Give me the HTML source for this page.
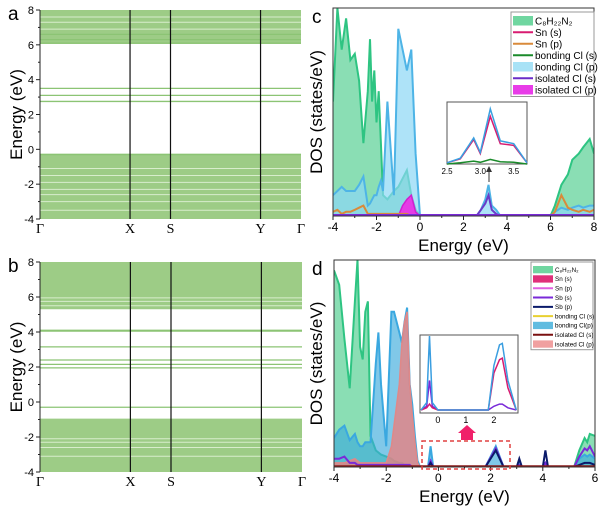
<!DOCTYPE html>
<html><head><meta charset="utf-8"><style>
body{margin:0;background:#fff}
svg{display:block;font-family:"Liberation Sans",sans-serif}
</style></head><body>
<svg id="fig" width="600" height="508" viewBox="0 0 600 508"></svg>
<script>
// ---- band data ----
const bandA_dense=[[6.05,8],[-4,-0.25]];
const bandA_lines=[3.5,3.1,2.75,6.1,6.3,6.6,-0.3];
const bandA_gaps=[6.9,7.3,7.6,-1.1,-1.5,-1.9,-2.3,-2.6,-3.0,-3.5];
const bandB_dense=[[5.3,8],[-4,-0.95]];
const bandB_lines=[4.1,4.05,3.15,2.4,2.15,1.95,-0.3];
const bandB_gaps=[5.5,5.75,5.95,-2.1,-2.3,-2.6,-3.1];
const kLabels=["Γ","X","S","Y","Γ"];
const kPos=[0,0.345,0.5,0.845,1];
// ---- DOS panel c ----
const cE=[-4,-3.8,-3.6,-3.4,-3.2,-3.0,-2.8,-2.6,-2.4,-2.3,-2.2,-2.1,-2.0,-1.9,-1.8,-1.7,-1.5,-1.2,-1.0,-0.8,-0.6,-0.4,-0.2,0,2.6,2.8,3.0,3.15,3.3,3.5,3.7,6.0,6.2,6.5,6.8,7.0,7.3,7.5,7.8,8];
const cOrg=[55,100,80,95,75,78,65,35,60,85,55,70,45,60,35,10,8,12,14,18,22,10,3,0,0,0,0,0,0,0,0,0,5,15,20,27,30,33,37,30];
const cBlue=[10,12,14,12,12,12,15,19,5,6,8,10,10,14,17,12,55,10,90,80,70,80,30,0,0,3,8,15,5,3,0,0,2,4,3,4,5,4,5,5];
const cMag=[0,0,0,0,0,0,0,0,0,0,0,0,0,0,0,0,0,0,0,5,8,10,2,0,0,0,0,0,0,0,0,0,0,0,0,0,0,0,0,0];
const cSnp=[2,3,1,2,2,3,4,5,1,1,1,1,1,1,1,1,1,1,1,1,1,0,0,0,0,0,0,0,0,0,0,0,2,10,4,3,2,3,2,3];
const cIso=[0,0,0,0,0,0,0,0,0,0,0,0,0,0,0,0,0,0,0,0,0,0,0,0,0,3,6,10,3,1,0,0,0,0,0,0,0,0,0,0];
const cInE=[2.5,2.7,2.9,3.0,3.15,3.3,3.5,3.7];
const cInBlue=[2,10,45,20,95,40,35,2];
const cInRed=[2,9,42,18,82,35,32,2];
const cInGreen=[0,2,5,3,8,4,3,0];
// ---- DOS panel d ----
const dE=[-4,-3.8,-3.6,-3.4,-3.2,-3.1,-3.0,-2.9,-2.8,-2.7,-2.6,-2.4,-2.3,-2.2,-2.0,-1.8,-1.7,-1.5,-1.4,-1.3,-1.2,-1.1,-1.0,-0.9,-0.8,-0.7,-0.4,-0.3,-0.2,1.8,2.2,2.5,3.0,3.1,3.2,4.0,4.1,4.2,5.2,5.4,5.6,5.7,5.8,6];
const dOrg=[95,88,62,38,80,100,58,52,75,80,15,8,7,6,5,4,3,2,2,1,1,0,0,0,0,0,0,0,0,0,0,0,0,0,0,0,0,0,0,8,14,12,16,15];
const dBlue=[14,18,20,13,16,12,10,10,12,12,12,50,65,40,10,75,75,65,60,70,77,40,30,15,3,0,0,10,0,0,10,0,0,3,0,0,2,0,0,4,6,5,6,4];
const dPink=[2,2,2,3,4,3,2,2,2,2,2,2,2,2,2,10,20,40,60,70,75,40,25,12,2,0,0,0,0,0,0,0,0,0,0,0,0,0,0,0,0,0,0,0];
const dSbp=[0,0,0,0,0,0,0,0,0,0,0,0,0,0,0,0,0,0,0,0,0,0,0,0,0,0,0,2,0,0,8,0,0,4,0,0,8,0,0,1,2,2,2,1];
const dSbs=[4,4,5,2,2,1,1,1,1,1,1,1,1,1,1,1,1,1,1,1,1,1,0,0,0,0,0,3,0,0,9,0,0,1,0,0,2,0,0,5,9,8,10,5];
const dInE=[-0.6,-0.4,-0.3,-0.2,0,1.8,2.0,2.2,2.3,2.5,2.8];
const dInBlue=[0,10,100,10,0,0,60,88,90,40,0];
const dInPurp=[0,5,40,5,0,0,5,8,8,3,0];
const dInRed=[0,3,8,3,0,0,50,68,70,30,0];

const S="http://www.w3.org/2000/svg";
const svg=document.getElementById('fig');
function el(t,a,p){const e=document.createElementNS(S,t);for(const k in a)e.setAttribute(k,a[k]);(p||svg).appendChild(e);return e;}
function txt(x,y,s,sz,anc,p,extra){const e=el('text',Object.assign({x:x,y:y,'font-size':sz,'text-anchor':anc||'middle',fill:'#000'},extra||{}),p);e.textContent=s;return e;}

function band(L,R,T,B,dense,lines,gaps,letter,name){
  const g=el('g',{});
  
  
  const y=e=>B-(e+4)/12*(B-T);
  dense.forEach(d=>{const r=el('rect',{x:L,y:y(d[1]),width:R-L,height:y(d[0])-y(d[1]),fill:'#9dcc86'},g);
    });
  gaps.forEach(e=>{el('line',{x1:L,x2:R,y1:y(e),y2:y(e),stroke:'#d8edcc','stroke-width':1},g);});
  lines.forEach(e=>{const l=el('line',{x1:L,x2:R,y1:y(e),y2:y(e),stroke:'#8cc474','stroke-width':1.3},g);
    });
  kPos.forEach((k,i)=>{const x=L+k*(R-L);
    if(i>0&&i<4)el('line',{x1:x,x2:x,y1:T,y2:B,stroke:'#111','stroke-width':1.2},g);
    const t=txt(x,B+14,kLabels[i],14,'middle',g,{'font-family':'Liberation Serif,serif'});
    });
  el('line',{x1:L,x2:L,y1:T,y2:B,stroke:'#222'},g);
  for(let v=-4;v<=8;v+=2){el('line',{x1:L-4,x2:L,y1:y(v),y2:y(v),stroke:'#222'},g);
    const t=txt(L-6,y(v)+4,String(v),11,'end',g);}
  for(let v=-3;v<=7;v+=2)el('line',{x1:L-2,x2:L,y1:y(v),y2:y(v),stroke:'#222'},g);
  const yt=txt(0,0,'Energy (eV)',17,'middle',g,{transform:`translate(22,${(T+B)/2}) rotate(-90)`});
  
  const lt=txt(8,T+10,letter,19,'start',g);
}
band(40,301,10,219,bandA_dense,bandA_lines,bandA_gaps,'a','band-structure-a');
band(40,302,262,472,bandB_dense,bandB_lines,bandB_gaps,'b','band-structure-b');

function series(g,E,V,xs,ys,fill,stroke,sw,name){
  let d='';E.forEach((e,i)=>{d+=(i?'L':'M')+xs(e).toFixed(1)+','+ys(V[i]).toFixed(1);});
  if(fill){const a=el('path',{d:d+`L${xs(E[E.length-1])},${ys(0)}L${xs(E[0])},${ys(0)}Z`,fill:fill,stroke:'none'},g);
    }
  const p=el('path',{d:d,fill:'none',stroke:stroke,'stroke-width':sw||1.5},g);
  
}

function dosAxes(g,L,R,T,B,emin,emax,letter){
  el('rect',{x:L,y:T,width:R-L,height:B-T,fill:'none',stroke:'#333'},g);
  const xs=e=>L+(e-emin)/(emax-emin)*(R-L);
  for(let v=emin;v<=emax;v+=2){el('line',{x1:xs(v),x2:xs(v),y1:B,y2:B+4,stroke:'#222'},g);
    const t=txt(xs(v),B+15,String(v),12,'middle',g);}
  for(let v=emin+1;v<emax;v+=2)el('line',{x1:xs(v),x2:xs(v),y1:B,y2:B+2,stroke:'#222'},g);
  const xt=txt((L+R)/2,B+35,'Energy (eV)',17,'middle',g);
  const yt=txt(0,0,'DOS (states/eV)',17,'middle',g,{transform:`translate(322,${(T+B)/2}) rotate(-90)`});
  
  const lt=txt(312,T+15,letter,19,'start',g);
}
function legend(g,x,y,w,rowH,items,fs){
  const b=el('rect',{x:x,y:y,width:w,height:rowH*items.length+4,fill:'#fff',stroke:'#999'},g);
  
  items.forEach((it,i)=>{const yy=y+3+i*rowH+rowH/2;
    if(it[2]==='box'){el('rect',{x:x+2,y:yy-rowH/2+1,width:20,height:rowH-2,fill:it[1]},g);}
    else el('line',{x1:x+2,x2:x+22,y1:yy,y2:yy,stroke:it[1],'stroke-width':2},g);
    const t=txt(x+24,yy+fs*0.35,it[0],fs,'start',g);});
}

// Panel c
(function(){
  const g=el('g',{});
  const L=333,R=594,T=8,B=216;
  const xs=e=>L+(e+4)/12*(R-L), ys=v=>B-Math.min(v,104)*(B-T)/100;
  const clip=el('clipPath',{id:'cc'},g);el('rect',{x:L,y:T,width:R-L,height:B-T},clip);
  const pg=el('g',{'clip-path':'url(#cc)'},g);
  series(pg,cE,cOrg,xs,ys,'rgba(60,200,130,0.6)','#2ec482',2,'c8h22n2');
  series(pg,cE,cBlue,xs,ys,'rgba(140,215,245,0.7)','#4eb4e6',2,'bonding-cl-p');
  series(pg,cE,cMag,xs,ys,'#e63ce6','#d020d0',1.5,'isolated-cl-p');
  series(pg,cE,cSnp,xs,ys,null,'#d98a3a',2,'sn-p');
  series(pg,cE,cIso,xs,ys,null,'#6a3cc8',2,'isolated-cl-s');
  el('line',{x1:L,x2:R,y1:B-1,y2:B-1,stroke:'#7a2ad8','stroke-width':2},pg);
  dosAxes(g,L,R,T,B,-4,8,'c');
  legend(g,511,12,83,11.5,[['C₈H₂₂N₂','#6fd6a0','box'],['Sn (s)','#d81b70'],['Sn (p)','#d98a3a'],['bonding Cl (s)','#1a8a2a'],['bonding Cl (p)','#a8e2f6','box'],['isolated Cl (s)','#6a2cc8'],['isolated Cl (p)','#e83ce8','box']],10);
  const iL=447,iR=527,iT=102,iB=164;
  el('rect',{x:iL,y:iT,width:iR-iL,height:iB-iT,fill:'#fff',stroke:'#555'},g);
  const ix=e=>iL+(e-2.5)/1.2*(iR-iL), iy=v=>iB-v*(iB-iT-4)/100;
  series(g,cInE,cInGreen,ix,iy,null,'#1a8a2a',1.5,'inset-bonding-cl-s');
  series(g,cInE,cInRed,ix,iy,null,'#d81b70',1.5,'inset-sn-s');
  series(g,cInE,cInBlue,ix,iy,null,'#3aa0e0',1.5,'inset-bonding-cl-p');
  [2.5,3.0,3.5].forEach(v=>{const t=txt(ix(v),iB+10,v.toFixed(1),8,'middle',g);});
  el('line',{x1:489,x2:489,y1:182,y2:170,stroke:'#333'},g);
  el('path',{d:'M486,172L489,166L492,172Z',fill:'#333'},g);
})();

// Panel d
(function(){
  const g=el('g',{});
  const L=334,R=595,T=260,B=467;
  const xs=e=>L+(e+4)/10*(R-L), ys=v=>B-Math.min(v,104)*(B-T)/100;
  const clip=el('clipPath',{id:'cd'},g);el('rect',{x:L,y:T,width:R-L,height:B-T},clip);
  const pg=el('g',{'clip-path':'url(#cd)'},g);
  series(pg,dE,dOrg,xs,ys,'rgba(60,200,130,0.6)','#2ec482',2,'c8h22n2');
  series(pg,dE,dBlue,xs,ys,'rgba(60,170,220,0.65)','#3aa8e0',2,'bonding-cl-p');
  series(pg,dE,dPink,xs,ys,'rgba(230,130,130,0.8)','#e08888',1.5,'isolated-cl-p');
  series(pg,dE,dSbs,xs,ys,null,'#7a2ad8',2,'sb-s');
  series(pg,dE,dSbp,xs,ys,null,'#0a1a6a',2,'sb-p');
  el('line',{x1:L,x2:R,y1:B-1,y2:B-1,stroke:'#8a1a1a','stroke-width':1.5},pg);
  dosAxes(g,L,R,T,B,-4,6,'d');
  legend(g,531,262,62,9.3,[['C₈H₂₂N₂','#6fd6a0','box'],['Sn (s)','#e0307a','box'],['Sn (p)','#e060e0'],['Sb (s)','#7a2ad8'],['Sb (p)','#0a1a6a'],['bonding Cl (s)','#e8d030'],['bonding Cl(p)','#60bce0','box'],['isolated Cl (s)','#7a1010'],['isolated Cl (p)','#f0a0a0','box']],6.3);
  const iL=420,iR=518,iT=335,iB=413;
  el('rect',{x:iL,y:iT,width:iR-iL,height:iB-iT,fill:'#fff',stroke:'#555'},g);
  const ix=e=>iL+(e+0.64)/3.5*(iR-iL), iy=v=>iB-3-v*(iB-iT-4)/100;
  series(g,dInE,dInPurp,ix,iy,null,'#7a2ad8',1.5,'inset-sb-s');
  series(g,dInE,dInRed,ix,iy,null,'#d81b70',1.5,'inset-sn-s');
  series(g,dInE,dInBlue,ix,iy,null,'#3a9ee0',1.5,'inset-bonding-cl-p');
  [0,1,2].forEach(v=>{const t=txt(ix(v),iB+10,String(v),9,'middle',g);});
  const box=el('rect',{x:422,y:441,width:88,height:28,fill:'none',stroke:'#e04040','stroke-width':1.5,'stroke-dasharray':'4,3'},g);
  
  const ar=el('path',{d:'M461,440L461,433L458,433L467,425L476,433L473,433L473,440Z',fill:'#f0206a'},g);
  
})();
</script>
</body></html>
